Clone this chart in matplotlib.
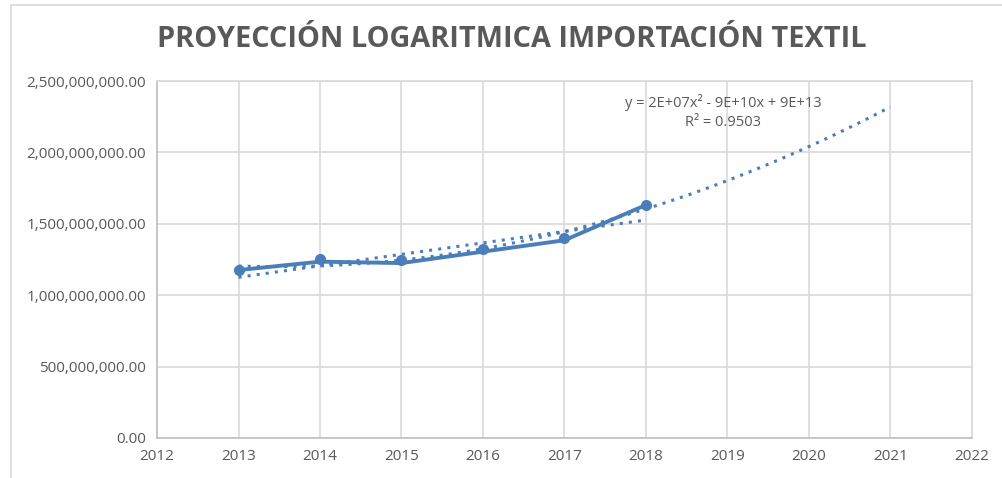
import numpy as np
import matplotlib
matplotlib.use("Agg")
import matplotlib.pyplot as plt
from matplotlib.ticker import FuncFormatter, MultipleLocator

# data
years = [2013, 2014, 2015, 2016, 2017, 2018]
importacion = [1.176e9, 1.253e9, 1.246e9, 1.324e9, 1.400e9, 1.632e9]
proyeccion = [1.176e9, 1.235e9, 1.225e9, 1.305e9, 1.385e9, 1.632e9]
poly_hasta = 2021
ecuacion = "y = 2E+07x² - 9E+10x + 9E+13"
r2 = "R² = 0.9503"
titulo = "PROYECCIÓN LOGARITMICA IMPORTACIÓN TEXTIL"

blue = "#4a7ebb"
gray_txt = "#595959"
grid_c = "#d9d9d9"

plt.rcParams['font.family'] = ['Open Sans', 'DejaVu Sans']

fig = plt.figure(figsize=(10.02, 4.78), dpi=100)
ax = fig.add_axes([0.1567, 0.0837, 0.8133, 0.7468])

# chart border (left/top)
fig.add_artist(plt.Line2D([0.011, 0.011], [0, 0.99], color=grid_c, lw=1.2, transform=fig.transFigure))
fig.add_artist(plt.Line2D([0.011, 1], [0.99, 0.99], color=grid_c, lw=1.2, transform=fig.transFigure))

x = np.array(years, dtype=float)
# trendlines as Excel computes them
c2 = np.polyfit(x - 2015.5, importacion, 2)
xp = np.linspace(years[0], poly_hasta, 200)
ax.plot(xp, np.polyval(c2, xp - 2015.5), ls=(0, (1, 2)), color=blue, lw=2.2, zorder=3)

cl = np.polyfit(np.log(x), proyeccion, 1)
xl = np.linspace(years[0], years[-1], 100)
ax.plot(xl, np.polyval(cl, np.log(xl)), ls=(0, (1, 2)), color=blue, lw=2.2, zorder=3)

ax.plot(years, proyeccion, color=blue, lw=2.8, zorder=4)
ax.plot(years, importacion, 'o', color=blue, ms=7, zorder=5)

ax.set_xlim(2012, 2022)
ax.set_ylim(0, 2.5e9)
ax.xaxis.set_major_locator(MultipleLocator(1))
ax.yaxis.set_major_locator(MultipleLocator(5e8))
ax.yaxis.set_major_formatter(FuncFormatter(lambda v, p: f"{v:,.2f}"))
ax.grid(True, color=grid_c, lw=1.2)
ax.set_axisbelow(True)
for s in ax.spines.values():
    s.set_color(grid_c)
    s.set_linewidth(1.2)
ax.spines['left'].set_color('#bfbfbf')
ax.spines['bottom'].set_color('#bfbfbf')
ax.tick_params(length=0, labelsize=11, colors=gray_txt, pad=8)

ax.text(0.695, 0.94, ecuacion, transform=ax.transAxes, ha='center', va='center', fontsize=10.5, color=gray_txt)
ax.text(0.695, 0.883, r2, transform=ax.transAxes, ha='center', va='center', fontsize=10.5, color=gray_txt)

fig.text(0.511, 0.918, titulo, ha='center', va='center', fontsize=20.8, fontweight='bold', color=gray_txt)

fig.savefig("out.png", dpi=100)
